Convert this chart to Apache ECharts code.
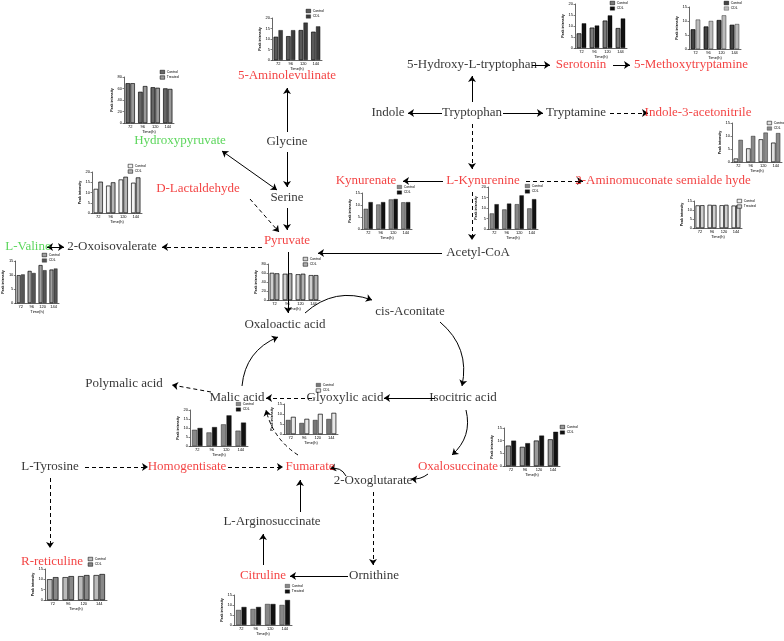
<!DOCTYPE html>
<html><head><meta charset="utf-8">
<script src="https://cdn.jsdelivr.net/npm/echarts@6/dist/echarts.min.js"></script>
<style>html,body{margin:0;padding:0;background:#fff}#c{width:784px;height:641px}</style>
</head><body><div id="c"></div>
<script>
// ---------- data ----------
const times = ['72', '96', '120', '144'];
const aminolevulinateCtrl = [11, 11.3, 14.2, 13.4];
const aminolevulinateCDL = [14.2, 14.2, 17.8, 16];
const serotoninCtrl = [6.6, 9.2, 12.4, 9];
const serotoninCDL = [11.2, 10.2, 14.8, 13.4];
const methoxyCtrl = [7, 8, 10.3, 8.6];
const methoxyCDL = [10.5, 10, 12, 8.9];
const acetonitrileCtrl = [1.3, 5.2, 8.7, 7.4];
const acetonitrileCDL = [8.5, 10, 11.3, 11.1];
const hydroxypyruvateCtrl = [69, 54, 62, 60];
const hydroxypyruvateTrt = [69, 64, 61, 59];
const lactaldehydeCtrl = [11.7, 13.3, 16.3, 14.7];
const lactaldehydeCDL = [15.2, 14.9, 17.6, 17.3];
const kynurenateCtrl = [8.4, 10.2, 12.3, 11.1];
const kynurenateCDL = [11.2, 11.2, 12.5, 11.2];
const kynurenineCtrl = [7.4, 9.3, 11.8, 9.8];
const kynurenineCDL = [11.8, 12.1, 16, 14.2];
const aminomuconateCtrl = [12.5, 12.8, 12.6, 12.4];
const aminomuconateTrt = [12.6, 12.7, 12.8, 12.5];
const valineCtrl = [9.9, 11.4, 13.5, 11.9];
const valineCDL = [10.2, 10.7, 11.7, 12.3];
const pyruvateCtrl = [60, 58, 57, 55];
const pyruvateCDL = [59, 59, 58, 55];
const homogentisateCtrl = [9, 7.5, 12, 8.5];
const homogentisateCDL = [10, 10.5, 17, 13];
const fumarateCtrl = [7, 5.5, 7, 7.5];
const fumarateCDL = [8.5, 7.5, 10, 10.5];
const oxalosuccinateCtrl = [8, 7.5, 10, 10.5];
const oxalosuccinateCDL = [10, 9, 12, 13.5];
const reticulineCtrl = [10, 11, 11.5, 12];
const reticulineCDL = [11, 11.5, 12, 12.5];
const citrulineCtrl = [7.5, 8, 10.5, 10];
const citrulineTrt = [9, 9, 10.5, 12.5];

const RED = '#f01414', GREEN = '#33cc33', BLACK = '#000';

// ---------- pathway layout ----------
const nodes = [
  ['5-Aminolevulinate', 287, 76, RED],
  ['Glycine', 287, 142, BLACK],
  ['Serine', 287, 198, BLACK],
  ['Hydroxypyruvate', 180, 141, GREEN],
  ['D-Lactaldehyde', 198, 189, RED],
  ['Pyruvate', 287, 241, RED],
  ['2-Oxoisovalerate', 112, 247, BLACK],
  ['L-Valine', 28, 247, GREEN],
  ['5-Hydroxy-L-tryptophan', 472, 65, BLACK],
  ['Serotonin', 581, 65, RED],
  ['5-Methoxytryptamine', 691, 65, RED],
  ['Indole', 388, 113, BLACK],
  ['Tryptophan', 472, 113, BLACK],
  ['Tryptamine', 576, 113, BLACK],
  ['Indole-3-acetonitrile', 698, 113, RED],
  ['Kynurenate', 366, 181, RED],
  ['L-Kynurenine', 483, 181, RED],
  ['2-Aminomuconate semialde hyde', 663, 181, RED],
  ['Acetyl-CoA', 478, 253, BLACK],
  ['Oxaloactic acid', 285, 325, BLACK],
  ['cis-Aconitate', 410, 312, BLACK],
  ['Polymalic acid', 124, 384, BLACK],
  ['Malic acid', 237, 398, BLACK],
  ['Glyoxylic acid', 345, 398, BLACK],
  ['Isocitric acid', 463, 398, BLACK],
  ['L-Tyrosine', 50, 467, BLACK],
  ['Homogentisate', 187, 467, RED],
  ['Fumarate', 310, 467, RED],
  ['Oxalosuccinate', 458, 467, RED],
  ['2-Oxoglutarate', 373, 481, BLACK],
  ['L-Arginosuccinate', 272, 522, BLACK],
  ['R-reticuline', 52, 562, RED],
  ['Citruline', 263, 576, RED],
  ['Ornithine', 374, 576, BLACK]
];

// [x1,y1,x2,y2]
const solidArrows = [
  [287, 132, 287, 88], [287, 152, 287, 187], [287, 208, 287, 230],
  [442, 253, 318, 253], [288, 252, 288, 313],
  [532, 65, 550, 65], [613, 65, 630, 65],
  [472, 102, 472, 76], [442, 113, 408, 113], [503, 113, 543, 113],
  [443, 181, 403, 181],
  [435, 398, 384, 398],
  [300, 512, 300, 480], [263, 565, 263, 534], [348, 576, 290, 576]
];
const dashedArrows = [
  [610, 113, 648, 113], [472, 124, 472, 169], [526, 181, 583, 181],
  [472, 192, 472, 240], [250, 199, 279, 232], [262, 247, 162, 247],
  [312, 398, 266, 398], [211, 392, 172, 385],
  [85, 467, 148, 467], [228, 467, 283, 467], [50, 478, 50, 548],
  [373, 492, 373, 565]
];
const doubleArrows = [
  [222, 151, 277, 190], [47, 247, 64, 247]
];
// [x1,y1,x2,y2,curveness]
const solidArcs = [
  [305, 313, 372, 300, 0.3], [440, 322, 462, 386, 0.3],
  [466, 410, 452, 455, 0.3], [428, 474, 411, 479, 0.2],
  [346, 476, 330, 469, -0.4], [242, 386, 278, 337, 0.3]
];
const dashedArcs = [
  [298, 455, 266, 410, 0.2]
];

// ---------- mini chart panels ----------
const panels = [
  {key: 'aminolevulinate', ctrl: aminolevulinateCtrl, trt: aminolevulinateCDL, names: ['Control', 'CDL'], max: 20, interval: 5,
   left: 272, top: 18, width: 50, height: 42, lx: 306, ly: 9, c1: '#5a5a5a', c2: '#3c3c3c', h1: true, h2: false},
  {key: 'serotonin', ctrl: serotoninCtrl, trt: serotoninCDL, names: ['Control', 'CDL'], max: 20, interval: 5,
   left: 575, top: 4, width: 52, height: 44, lx: 610, ly: 1, c1: '#7a7a7a', c2: '#111', h1: true, h2: false},
  {key: 'methoxy', ctrl: methoxyCtrl, trt: methoxyCDL, names: ['Control', 'CDL'], max: 15, interval: 5,
   left: 689, top: 7, width: 52, height: 42, lx: 724, ly: 1, c1: '#444', c2: '#bbb', h1: true, h2: false},
  {key: 'acetonitrile', ctrl: acetonitrileCtrl, trt: acetonitrileCDL, names: ['Control', 'CDL'], max: 15, interval: 5,
   left: 732, top: 123, width: 50, height: 39, lx: 767, ly: 121, c1: '#e0e0e0', c2: '#8a8a8a', h1: true, h2: false},
  {key: 'hydroxypyruvate', ctrl: hydroxypyruvateCtrl, trt: hydroxypyruvateTrt, names: ['Control', 'Treated'], max: 80, interval: 20,
   left: 124, top: 77, width: 50, height: 46, lx: 160, ly: 70, c1: '#666', c2: '#999', h1: true, h2: true},
  {key: 'lactaldehyde', ctrl: lactaldehydeCtrl, trt: lactaldehydeCDL, names: ['Control', 'CDL'], max: 20, interval: 5,
   left: 92, top: 172, width: 50, height: 41, lx: 128, ly: 164, c1: '#f2f2f2', c2: '#b5b5b5', h1: true, h2: true},
  {key: 'kynurenate', ctrl: kynurenateCtrl, trt: kynurenateCDL, names: ['Control', 'CDL'], max: 15, interval: 5,
   left: 362, top: 193, width: 50, height: 36, lx: 397, ly: 185, c1: '#888', c2: '#111', h1: false, h2: false},
  {key: 'kynurenine', ctrl: kynurenineCtrl, trt: kynurenineCDL, names: ['Control', 'CDL'], max: 20, interval: 5,
   left: 488, top: 187, width: 50, height: 42, lx: 525, ly: 184, c1: '#888', c2: '#111', h1: false, h2: false},
  {key: 'aminomuconate', ctrl: aminomuconateCtrl, trt: aminomuconateTrt, names: ['Control', 'Treated'], max: 15, interval: 5,
   left: 694, top: 201, width: 48, height: 27, lx: 737, ly: 199, c1: '#f0f0f0', c2: '#cfcfcf', h1: true, h2: true},
  {key: 'valine', ctrl: valineCtrl, trt: valineCDL, names: ['Control', 'CDL'], max: 15, interval: 5,
   left: 9, top: 261, width: 50, height: 42, lx: 42, ly: 253, c1: '#a0a0a0', c2: '#555', h1: true, h2: false},
  {key: 'pyruvate', ctrl: pyruvateCtrl, trt: pyruvateCDL, names: ['Control', 'CDL'], max: 80, interval: 20,
   left: 268, top: 264, width: 52, height: 36, lx: 303, ly: 257, c1: '#d0d0d0', c2: '#b0b0b0', h1: true, h2: true},
  {key: 'homogentisate', ctrl: homogentisateCtrl, trt: homogentisateCDL, names: ['Control', 'CDL'], max: 20, interval: 5,
   left: 190, top: 410, width: 58, height: 36, lx: 236, ly: 402, c1: '#888', c2: '#111', h1: false, h2: false},
  {key: 'fumarate', ctrl: fumarateCtrl, trt: fumarateCDL, names: ['Control', 'CDL'], max: 15, interval: 5,
   left: 284, top: 404, width: 54, height: 30, lx: 316, ly: 383, c1: '#777', c2: '#e8e8e8', h1: false, h2: true},
  {key: 'oxalosuccinate', ctrl: oxalosuccinateCtrl, trt: oxalosuccinateCDL, names: ['Control', 'CDL'], max: 15, interval: 5,
   left: 504, top: 428, width: 56, height: 38, lx: 560, ly: 425, c1: '#9a9a9a', c2: '#111', h1: true, h2: false},
  {key: 'reticuline', ctrl: reticulineCtrl, trt: reticulineCDL, names: ['Control', 'CDL'], max: 15, interval: 5,
   left: 45, top: 569, width: 62, height: 31, lx: 88, ly: 557, c1: '#bbb', c2: '#888', h1: true, h2: true},
  {key: 'citruline', ctrl: citrulineCtrl, trt: citrulineTrt, names: ['Control', 'Treated'], max: 15, interval: 5,
   left: 234, top: 595, width: 58, height: 30, lx: 285, ly: 584, c1: '#888', c2: '#111', h1: false, h2: false}
];

// ---------- build option ----------
const SMALL = 4;
const hatch = {symbol: 'none', dashArrayX: [1, 0], dashArrayY: [1, 1], color: 'rgba(0,0,0,0.35)'};
const grids = [{left: 0, top: 0, width: 784, height: 641}];
const xAxes = [{type: 'value', gridIndex: 0, min: 0, max: 784, show: false}];
const yAxes = [{type: 'value', gridIndex: 0, min: 0, max: 641, inverse: true, show: false}];
const legends = [];
const series = [];

panels.forEach((p, i) => {
  const gi = i + 1;
  grids.push({left: p.left, top: p.top, width: p.width, height: p.height});
  xAxes.push({
    type: 'category', gridIndex: gi, data: times,
    axisLine: {lineStyle: {color: '#000', width: 0.6}},
    axisTick: {length: 1.5, lineStyle: {width: 0.5}},
    axisLabel: {fontSize: SMALL, margin: 2, color: '#000'},
    name: 'Time(h)', nameLocation: 'middle', nameGap: 7,
    nameTextStyle: {fontSize: SMALL, color: '#000'}
  });
  yAxes.push({
    type: 'value', gridIndex: gi, min: 0, max: p.max, interval: p.interval,
    splitLine: {show: false},
    axisLine: {show: true, lineStyle: {color: '#000', width: 0.6}},
    axisTick: {show: true, length: 1.5, lineStyle: {width: 0.5}},
    axisLabel: {fontSize: SMALL, margin: 2, color: '#000'},
    name: 'Peak intensity', nameLocation: 'middle', nameGap: 8,
    nameTextStyle: {fontSize: 3.5, color: '#000', fontWeight: 'bold'}
  });
  const n1 = p.names[0] + '|' + p.key, n2 = p.names[1] + '|' + p.key;
  [[n1, p.ctrl, p.c1, p.h1], [n2, p.trt, p.c2, p.h2]].forEach(([nm, vals, col, h]) => {
    series.push({
      type: 'bar', name: nm, xAxisIndex: gi, yAxisIndex: gi, data: vals,
      barCategoryGap: '28%', barGap: '12%',
      itemStyle: Object.assign({color: col, borderColor: '#000', borderWidth: 0.4}, h ? {decal: hatch} : {}),
      silent: true
    });
  });
  legends.push({
    left: p.lx, top: p.ly, orient: 'vertical', padding: 0, itemGap: 1.5,
    itemWidth: 4.5, itemHeight: 3.5, data: [n1, n2], icon: 'rect',
    itemStyle: {borderWidth: 0.3, borderColor: '#000'},
    formatter: nm => nm.split('|')[0],
    textStyle: {fontSize: 3.5, color: '#000', padding: [0, 0, 0, -3]},
    selectedMode: false
  });
});

// pathway labels
series.push({
  type: 'scatter', xAxisIndex: 0, yAxisIndex: 0, symbolSize: 1, z: 10,
  itemStyle: {color: 'rgba(0,0,0,0)'},
  data: nodes.map(n => ({name: n[0], value: [n[1], n[2]], label: {color: n[3]}})),
  label: {show: true, position: 'inside', formatter: '{b}', fontSize: 13,
    fontFamily: '"Liberation Serif","Times New Roman",serif'},
  labelLayout: {hideOverlap: false},
  silent: true
});

function lineSeries(list, dashed, sym, curved) {
  return {
    type: 'lines', coordinateSystem: 'cartesian2d', xAxisIndex: 0, yAxisIndex: 0, z: 9,
    symbol: sym, symbolSize: 6, silent: true,
    lineStyle: {color: '#000', width: 1, type: dashed ? [4, 3] : 'solid', opacity: 1},
    data: list.map(a => {
      const d = {coords: [[a[0], a[1]], [a[2], a[3]]]};
      if (curved) d.lineStyle = {curveness: a[4]};
      return d;
    })
  };
}
series.push(lineSeries(solidArrows, false, ['none', 'arrow'], false));
series.push(lineSeries(dashedArrows, true, ['none', 'arrow'], false));
series.push(lineSeries(doubleArrows, false, ['arrow', 'arrow'], false));
series.push(lineSeries(solidArcs, false, ['none', 'arrow'], true));
series.push(lineSeries(dashedArcs, true, ['none', 'arrow'], true));

const chart = echarts.init(document.getElementById('c'), null, {renderer: 'canvas'});
chart.setOption({
  animation: false,
  backgroundColor: '#fff',
  textStyle: {fontFamily: '"Liberation Sans", Arial, sans-serif'},
  grid: grids, xAxis: xAxes, yAxis: yAxes, legend: legends, series: series
});
</script></body></html>
